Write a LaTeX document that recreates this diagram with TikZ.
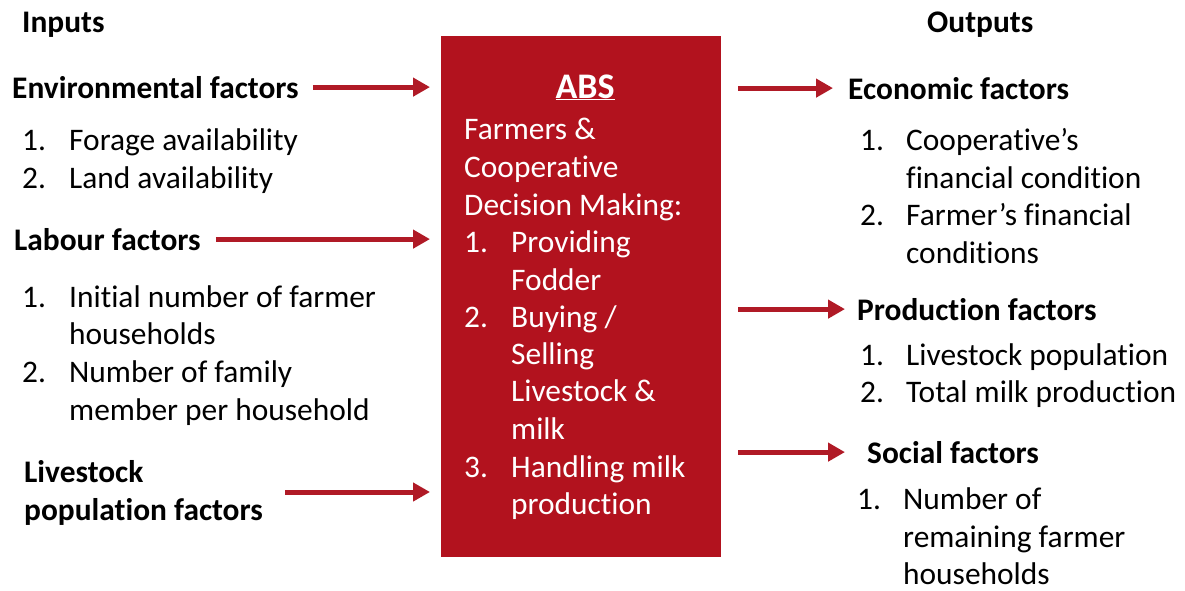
\documentclass[tikz,border=0pt]{standalone}
\usepackage{fontspec}
\setmainfont{Carlito}[Ligatures={NoCommon,NoContextual}]
\usetikzlibrary{arrows.meta}
\definecolor{absred}{HTML}{B2121E}
\definecolor{arrowred}{HTML}{B01A26}
\begin{document}
\begin{tikzpicture}[x=1pt,y=-1pt,
  txt/.style={anchor=base west,inner sep=0pt,font=\fontsize{31.4}{37.6}\selectfont},
  hdr/.style={anchor=base west,inner sep=0pt,font=\fontsize{31.4}{37.6}\selectfont\bfseries},
  boxtxt/.style={txt,text=white},
  flow/.style={draw=arrowred,line width=5pt,-{Triangle[length=17pt,width=18pt]}},
]
\useasboundingbox[fill=white] (0,0) rectangle (1185,590);

% central block
\node[fill=absred,minimum width=280pt,minimum height=521pt,anchor=north west,inner sep=0pt] (box) at (441,36) {};
\node[anchor=base,inner sep=0pt,text=white,font=\fontsize{36}{40}\selectfont\bfseries] (abs) at (585,98) {\underline{ABS}};
\node[boxtxt] (b1) at (464,139) {Farmers \&};
\node[boxtxt] (b2) at (464,177) {Cooperative};
\node[boxtxt] (b3) at (464,215) {Decision Making:};
\node[boxtxt] (b4n) at (464,252) {1.};
\node[boxtxt] (b4) at (511,252) {Providing};
\node[boxtxt] (b5) at (511,290) {Fodder};
\node[boxtxt] (b6n) at (464,327) {2.};
\node[boxtxt] (b6) at (511,327) {Buying /};
\node[boxtxt] (b7) at (511,364) {Selling};
\node[boxtxt] (b8) at (511,401) {Livestock \&};
\node[boxtxt] (b9) at (511,439) {milk};
\node[boxtxt] (b10n) at (464,477) {3.};
\node[boxtxt] (b10) at (511,477) {Handling milk};
\node[boxtxt] (b11) at (511,514) {production};

% inputs
\node[hdr] (inputs) at (22,32) {Inputs};
\node[hdr] (env) at (12,98) {Environmental factors};
\node[txt] (e1n) at (22,150) {1.};
\node[txt] (e1) at (69,150) {Forage availability};
\node[txt] (e2n) at (22,188) {2.};
\node[txt] (e2) at (69,188) {Land availability};
\node[hdr] (lab) at (14,250) {Labour factors};
\node[txt] (l1n) at (22,307) {1.};
\node[txt] (l1) at (69,307) {Initial number of farmer};
\node[txt] (l1b) at (69,344) {households};
\node[txt] (l2n) at (22,382) {2.};
\node[txt] (l2) at (69,382) {Number of family};
\node[txt] (l2b) at (69,420) {member per household};
\node[hdr] (liv) at (24,482) {Livestock};
\node[hdr] (livb) at (24,520) {population factors};
\coordinate (livarr) at (285,492);

% outputs
\node[hdr] (outputs) at (927,32) {Outputs};
\node[hdr] (eco) at (848,99) {Economic factors};
\node[txt] (c1n) at (860,150) {1.};
\node[txt] (c1) at (906,150) {Cooperative’s};
\node[txt] (c1b) at (906,188) {financial condition};
\node[txt] (c2n) at (860,225) {2.};
\node[txt] (c2) at (906,225) {Farmer’s financial};
\node[txt] (c2b) at (906,263) {conditions};
\node[hdr] (pro) at (857,320) {Production factors};
\node[txt] (p1n) at (860,365) {1.};
\node[txt] (p1) at (906,365) {Livestock population};
\node[txt] (p2n) at (860,402) {2.};
\node[txt] (p2) at (906,402) {Total milk production};
\node[hdr] (soc) at (867,463) {Social factors};
\node[txt] (s1n) at (857,509) {1.};
\node[txt] (s1) at (903,509) {Number of};
\node[txt] (s1b) at (903,547) {remaining farmer};
\node[txt] (s1c) at (903,584) {households};

% connectors
\draw[flow,shorten <=14pt,shorten >=11pt] (env.east) -- (env.east -| box.west);
\draw[flow,shorten <=15pt,shorten >=11pt] (lab.east) -- (lab.east -| box.west);
\draw[flow,shorten >=11pt] (livarr) -- (livarr -| box.west);
\draw[flow,shorten <=17pt,shorten >=15pt] (eco.west -| box.east) -- (eco.west);
\draw[flow,shorten <=17pt,shorten >=12pt] (pro.west -| box.east) -- (pro.west);
\draw[flow,shorten <=17pt,shorten >=22pt] (soc.west -| box.east) -- (soc.west);
\end{tikzpicture}
\end{document}
